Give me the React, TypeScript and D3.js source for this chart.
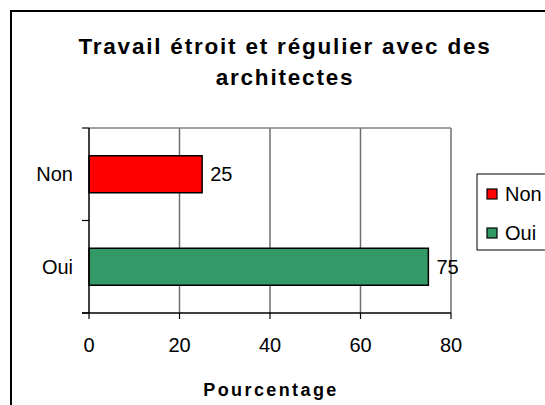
import React from 'react';
import * as d3 from 'd3';

const categories = ['Non', 'Oui'];
const values = [25, 75];
const colors = ['#FF0000', '#339966'];
const xTicks = [0, 20, 40, 60, 80];
const titleLines = ['Travail étroit et régulier avec des', 'architectes'];
const xAxisTitle = 'Pourcentage';

const W = 545;
const H = 405;
const FONT = '"Liberation Sans", Arial, sans-serif';

export default function App() {
  const x = d3.scaleLinear().domain([0, 80]).range([89, 451]);
  const y = d3.scaleBand<string>().domain(categories).range([128, 313]).padding(0);
  const barH = y.bandwidth() * 0.4;
  const bottom = 313;
  const top = 128;

  return (
    <svg width={W} height={H} style={{ position: 'absolute', left: 0, top: 0, display: 'block' }}
      fontFamily={FONT}>
      <rect x={0} y={0} width={W} height={H} fill="#fff" />
      {/* chart frame, runs off the right and bottom */}
      <rect x={11} y={11} width={W} height={H} fill="none" stroke="#000" strokeWidth={2} />

      {titleLines.map((t, i) => (
        <text key={i} x={285} y={54 + i * 31} textAnchor="middle" fontSize={22.5} fontWeight="bold"
          letterSpacing={1.8} fill="#000">{t}</text>
      ))}

      {/* gridlines */}
      {xTicks.slice(1).map(t => (
        <line key={t} x1={x(t)} x2={x(t)} y1={top} y2={bottom} stroke="#6e6e6e" strokeWidth={1.5} />
      ))}
      <line x1={x(0)} x2={x(80)} y1={top} y2={top} stroke="#808080" strokeWidth={1.5} />

      {/* bars */}
      {categories.map((c, i) => {
        const cy = (y(c) as number) + y.bandwidth() / 2;
        return (
          <g key={c}>
            <rect x={x(0)} y={cy - barH / 2} width={x(values[i]) - x(0)} height={barH}
              fill={colors[i]} stroke="#000" strokeWidth={1.5} />
            <text x={x(values[i]) + 8} y={cy} dy="0.35em" fontSize={20} fill="#000">{values[i]}</text>
            <text x={73} y={cy} dy="0.35em" textAnchor="end" fontSize={20} fill="#000">{c}</text>
          </g>
        );
      })}

      {/* y axis */}
      <line x1={x(0)} x2={x(0)} y1={top} y2={bottom} stroke="#000" strokeWidth={1.5} />
      {[top, ...categories.map(c => (y(c) as number) + y.bandwidth())].map((v, i) => (
        <line key={i} x1={82} x2={x(0)} y1={v} y2={v} stroke="#000" strokeWidth={1.2} />
      ))}

      {/* x axis */}
      <line x1={82} x2={x(80)} y1={bottom} y2={bottom} stroke="#000" strokeWidth={1.5} />
      {xTicks.map(t => (
        <g key={t}>
          <line x1={x(t)} x2={x(t)} y1={bottom} y2={bottom + 6} stroke="#000" strokeWidth={1.2} />
          <text x={x(t)} y={352} textAnchor="middle" fontSize={20} fill="#000">{t}</text>
        </g>
      ))}
      <text x={271} y={396} textAnchor="middle" fontSize={18} fontWeight="bold" letterSpacing={2.4}
        fill="#000">{xAxisTitle}</text>

      {/* legend */}
      <rect x={477} y={174} width={W} height={76} fill="#fff" stroke="#000" strokeWidth={1} />
      {categories.map((c, i) => (
        <g key={c}>
          <rect x={487} y={189 + i * 39} width={10} height={10} fill={colors[i]} stroke="#000" strokeWidth={1.2} />
          <text x={505} y={194 + i * 39} dy="0.35em" fontSize={20} fill="#000">{c}</text>
        </g>
      ))}
    </svg>
  );
}
